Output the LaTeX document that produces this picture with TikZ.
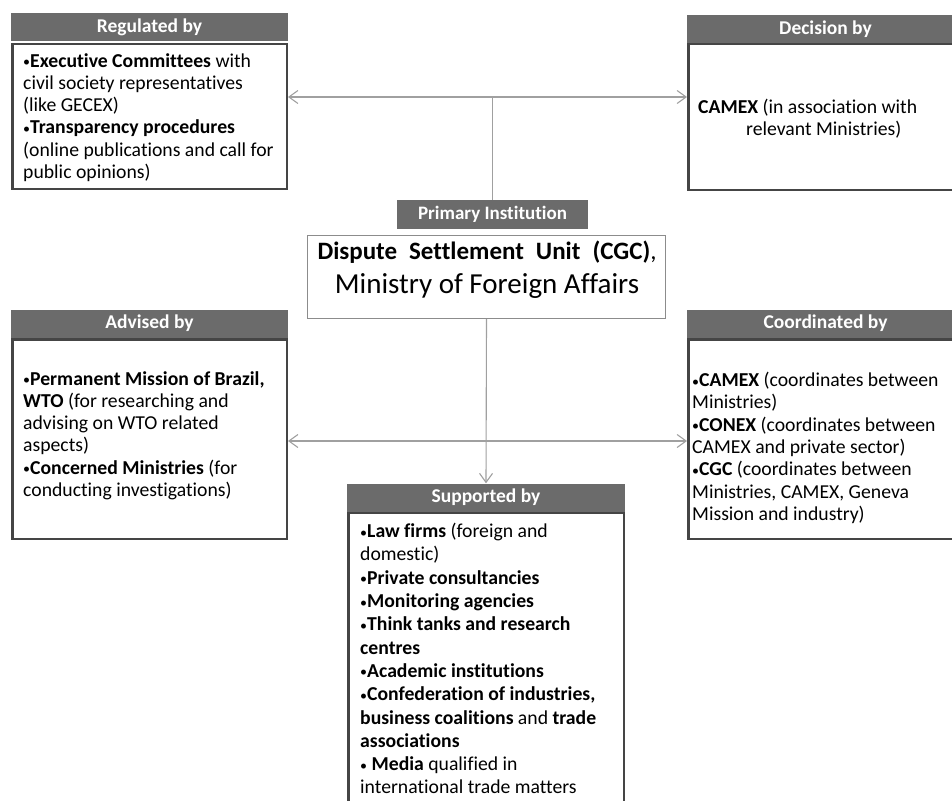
\documentclass[tikz,border=0pt]{standalone}
\usepackage{fontspec}
\setmainfont{Carlito}[Ligatures=NoCommon]
\usetikzlibrary{arrows.meta}
\definecolor{hdrgray}{HTML}{6B6B6B}
\definecolor{boxgray}{HTML}{454545}
\definecolor{maingray}{HTML}{8C8C8C}
\definecolor{linegray}{HTML}{A0A0A0}
\newcommand{\bul}{{\fontsize{14}{14}\selectfont\raisebox{0.5pt}{\textbullet}}}
\begin{document}
\begin{tikzpicture}[x=1pt,y=-1pt,
  hdr/.style={fill=hdrgray,text=white,font=\fontsize{19.5}{21}\selectfont\bfseries,minimum width=277pt,minimum height=28pt,inner sep=0pt},
  panel/.style={draw=boxgray,line width=2.5pt,minimum width=274.5pt,inner sep=0pt},
  txt/.style={align=left,inner sep=0pt,anchor=north west,font=\fontsize{19.7}{22.3}\selectfont},
  conn/.style={draw=linegray,line width=1.1pt},
  arr/.style={conn,-{Straight Barb[length=9pt,width=13pt]}}]
\useasboundingbox (0,0) rectangle (952,800);

\node[hdr] (reghead) at (149.5,27) {Regulated by};
\node[panel,minimum height=144.5pt] (regbox) at (149.5,116.5) {};
\node[txt] (regtxt) at (23,53) {\bul\textbf{Executive Committees} with\\civil society representatives\\(like GECEX)\\\bul\textbf{Transparency procedures}\\(online publications and call for\\public opinions)};

\node[hdr] (dechead) at (825.5,29.5) {Decision by};
\node[panel,minimum height=145.5pt] (decbox) at (825.5,117) {};
\node[txt] (dectxt) at (698,99) {\textbf{CAMEX} (in association with\\\hspace*{48pt}relevant Ministries)};

\node[hdr,minimum width=191pt,minimum height=29pt,font=\fontsize{19}{21}\selectfont\bfseries] (primhead) at (492.5,214.5) {Primary Institution};
\node[draw=maingray,line width=1pt,minimum width=358pt,minimum height=83pt,inner sep=0pt] (main) at (486.5,277) {};
\node[align=center,inner sep=0pt,anchor=north,font=\fontsize{29}{34}\selectfont] (maintxt) at (487,241)
  {{\fontsize{25}{34}\selectfont\textbf{Dispute\hspace{12pt}Settlement\hspace{12pt}Unit\hspace{12pt}(CGC)},}\\Ministry of Foreign Affairs};

\node[hdr] (advhead) at (149.5,323.5) {Advised by};
\node[panel,minimum height=199.5pt] (advbox) at (149.5,439) {};
\node[txt] (advtxt) at (23,371) {\bul\textbf{Permanent Mission of Brazil,}\\\textbf{WTO} (for researching and\\advising on WTO related\\aspects)\\\bul\textbf{Concerned Ministries} (for\\conducting investigations)};

\node[hdr] (coohead) at (825.5,323.5) {Coordinated by};
\node[panel,minimum height=199.5pt] (coobox) at (825.5,439) {};
\node[txt] (cootxt) at (692,372) {\bul\textbf{CAMEX} (coordinates between\\Ministries)\\\bul\textbf{CONEX} (coordinates between\\CAMEX and private sector)\\\bul\textbf{CGC} (coordinates between\\Ministries, CAMEX, Geneva\\Mission and industry)};

\node[hdr,minimum width=278pt] (suphead) at (486,497.5) {Supported by};
\node[panel,minimum width=275.5pt,minimum height=316.75pt] (supbox) at (486,671.6) {};
\node[txt,font=\fontsize{19.7}{23.3}\selectfont] (suptxt) at (360,523) {\bul\textbf{Law firms} (foreign and\\domestic)\\\bul\textbf{Private consultancies}\\\bul\textbf{Monitoring agencies}\\\bul\textbf{Think tanks and research}\\\textbf{centres}\\\bul\textbf{Academic institutions}\\\bul\textbf{Confederation of industries,}\\\textbf{business coalitions} and \textbf{trade}\\\textbf{associations}\\\bul{} \textbf{Media} qualified in\\international trade matters};

\coordinate (topy) at (0,97);
\coordinate (boty) at (0,441);
\coordinate (topj) at (primhead.north |- topy);
\coordinate (botj) at (main.south |- boty);
\draw[conn] (primhead.north) -- (topj);
\draw[arr] (topj) -- (topj -| regbox.east);
\draw[arr] (topj) -- (topj -| decbox.west);
\draw[arr] (main.south) -- (suphead.north);
\draw[arr] (botj) -- (botj -| advbox.east);
\draw[arr] (botj) -- (botj -| coobox.west);
\end{tikzpicture}
\end{document}
